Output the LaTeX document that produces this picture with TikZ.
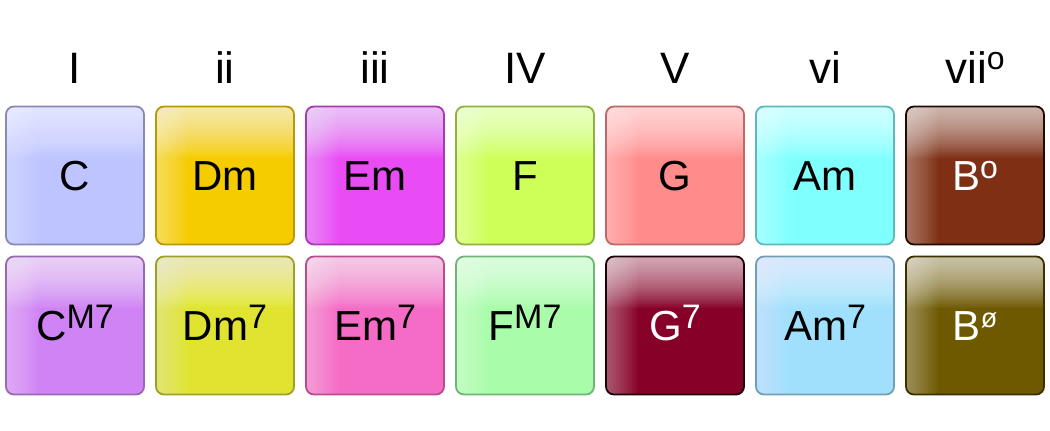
\documentclass[tikz,border=0pt]{standalone}
\usepackage{fontspec}
\setmainfont{Liberation Sans}
\definecolor{cI}{HTML}{BEC4FF}\definecolor{bI}{HTML}{8888BB}
\definecolor{cII}{HTML}{F5CC00}\definecolor{bII}{HTML}{B8980A}
\definecolor{cIII}{HTML}{E94CF5}\definecolor{bIII}{HTML}{A83AB0}
\definecolor{cIV}{HTML}{CEFF58}\definecolor{bIV}{HTML}{90B040}
\definecolor{cV}{HTML}{FF8B8B}\definecolor{bV}{HTML}{C06868}
\definecolor{cVI}{HTML}{80FFFF}\definecolor{bVI}{HTML}{60B8B8}
\definecolor{cVII}{HTML}{7E2F14}\definecolor{bVII}{HTML}{200A04}
\definecolor{dI}{HTML}{D083F5}\definecolor{eI}{HTML}{9868B0}
\definecolor{dII}{HTML}{E0E430}\definecolor{eII}{HTML}{A0A028}
\definecolor{dIII}{HTML}{F46CC6}\definecolor{eIII}{HTML}{B84C8C}
\definecolor{dIV}{HTML}{A8FCAA}\definecolor{eIV}{HTML}{70B478}
\definecolor{dV}{HTML}{860028}\definecolor{eV}{HTML}{1E0008}
\definecolor{dVI}{HTML}{A0E0FC}\definecolor{eVI}{HTML}{70A0B4}
\definecolor{dVII}{HTML}{6E5800}\definecolor{eVII}{HTML}{3C3000}
\newcommand{\chsup}[3][12pt]{\raisebox{#1}{\fontsize{#2}{#2}\selectfont #3}}
\tikzset{
  chordbox/.style n args={2}{
    fill=#1, draw=#2, line width=1.8pt, rounded corners=8pt,
    minimum width=138pt, minimum height=138pt, inner sep=0pt,
    text height=40pt, text depth=10pt,
    font=\fontsize{42pt}{42pt}\selectfont,
    path picture={
      \foreach \i in {1,...,16}{
        \fill[white, opacity=0.027, sharp corners]
          (path picture bounding box.north west) rectangle
          ([xshift=2*\i pt]path picture bounding box.south west);
      }
      \foreach \i in {1,...,26}{
        \fill[white, opacity=0.045, sharp corners]
          (path picture bounding box.north west) rectangle
          ([yshift=-2*\i pt]path picture bounding box.north east);
      }
    }},
  degree/.style={anchor=base, font=\fontsize{44pt}{44pt}\selectfont, inner sep=0pt}
}
\begin{document}
\begin{tikzpicture}[x=1pt,y=1pt]
\useasboundingbox (0,0) rectangle (1050,431);
% header
\node[degree] (h1) at (75,347) {I};
\node[degree] (h2) at (225,347) {ii};
\node[degree] (h3) at (375,347) {iii};
\node[degree] (h4) at (525,347) {IV};
\node[degree] (h5) at (675,347) {V};
\node[degree] (h6) at (825,347) {vi};
\node[degree] (h7) at (975,347) {vii\chsup[14pt]{32pt}{o}};
% row 1
\node[chordbox={cI}{bI}] (r1) at (75,255.5) {C};
\node[chordbox={cII}{bII}] (r2) at (225,255.5) {Dm};
\node[chordbox={cIII}{bIII}] (r3) at (375,255.5) {Em};
\node[chordbox={cIV}{bIV}] (r4) at (525,255.5) {F};
\node[chordbox={cV}{bV}] (r5) at (675,255.5) {G};
\node[chordbox={cVI}{bVI}] (r6) at (825,255.5) {Am};
\node[chordbox={cVII}{bVII}, text=white] (r7) at (975,255.5) {B\chsup[12pt]{32pt}{o}};
% row 2
\node[chordbox={dI}{eI}] (s1) at (75,105.5) {C\chsup{34pt}{M7}};
\node[chordbox={dII}{eII}] (s2) at (225,105.5) {Dm\chsup{34pt}{7}};
\node[chordbox={dIII}{eIII}] (s3) at (375,105.5) {Em\chsup{34pt}{7}};
\node[chordbox={dIV}{eIV}] (s4) at (525,105.5) {F\chsup{34pt}{M7}};
\node[chordbox={dV}{eV}, text=white] (s5) at (675,105.5) {G\chsup{34pt}{7}};
\node[chordbox={dVI}{eVI}] (s6) at (825,105.5) {Am\chsup{34pt}{7}};
\node[chordbox={dVII}{eVII}, text=white] (s7) at (975,105.5) {B\chsup[13pt]{27pt}{ø}};
\end{tikzpicture}
\end{document}
